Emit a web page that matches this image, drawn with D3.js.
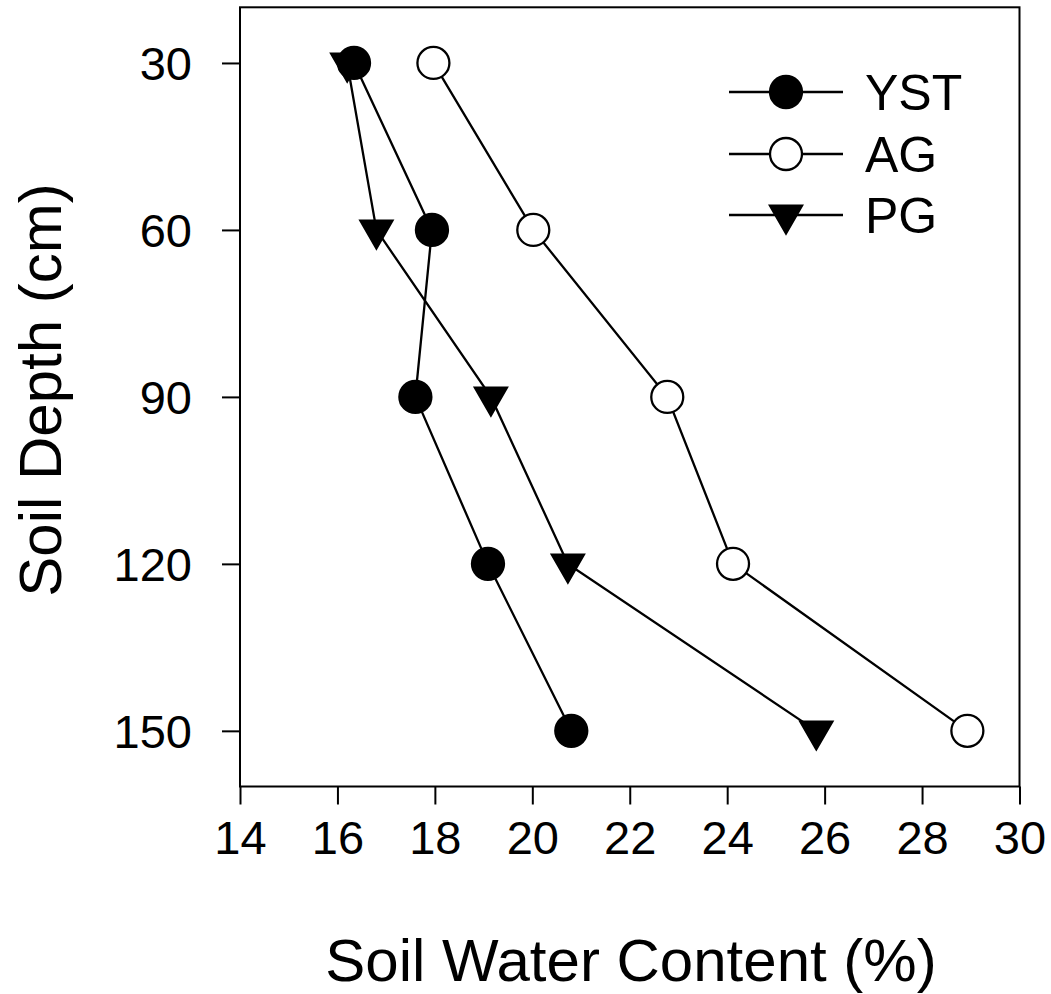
<!DOCTYPE html>
<html>
<head>
<meta charset="utf-8">
<script src="https://cdn.jsdelivr.net/npm/d3@7"></script>
<style>
  html, body { margin: 0; padding: 0; background: #fff; }
  svg { display: block; font-family: "Liberation Sans", Arial, sans-serif; }
</style>
</head>
<body>
<svg id="chart" width="1051" height="994"></svg>
<script>
// Soil water content profiles by depth for three land uses
const depths = [30, 60, 90, 120, 150];
const ystValues = [16.34, 17.94, 17.6, 19.09, 20.8];
const agValues = [17.97, 20.02, 22.77, 24.12, 28.93];
const pgValues = [16.2, 16.8, 19.15, 20.73, 25.83];
const seriesNames = ["YST", "AG", "PG"];
const xTicks = [14, 16, 18, 20, 22, 24, 26, 28, 30];
const yTicks = [30, 60, 90, 120, 150];

const series = [
  { name: "YST", values: ystValues, symbol: "circle", fill: "#000" },
  { name: "AG", values: agValues, symbol: "circle", fill: "#fff" },
  { name: "PG", values: pgValues, symbol: "triangle", fill: "#000" }
];

const svg = d3.select("#chart");
const plotLeft = 240, plotRight = 1019.5, plotTop = 7.3, plotBottom = 786.5;

const x = d3.scaleLinear().domain([14, 30]).range([plotLeft, plotRight]);
const y = d3.scaleLinear().domain([20, 160]).range([plotTop, plotBottom]);

const markerShape = s => s.symbol === "circle"
  ? d3.symbol().type(d3.symbolCircle).size(Math.PI * 16 * 16)()
  : d3.symbol().type(d3.symbolTriangle).size(443)();

const markerTransform = (s, px, py) => s.symbol === "triangle"
  ? `translate(${px},${py}) rotate(180)`
  : `translate(${px},${py})`;

// Axes
const xAxis = svg.append("g")
  .attr("transform", `translate(0,${plotBottom})`)
  .call(d3.axisBottom(x).tickValues(xTicks).tickSize(18).tickPadding(16).tickFormat(d3.format("d")));
const yAxis = svg.append("g")
  .attr("transform", `translate(${plotLeft},0)`)
  .call(d3.axisLeft(y).tickValues(yTicks).tickSize(18).tickPadding(30).tickFormat(d3.format("d")));

[xAxis, yAxis].forEach(g => {
  g.select(".domain").remove();
  g.selectAll(".tick line").attr("stroke", "#000").attr("stroke-width", 2);
  g.selectAll(".tick text").attr("fill", "#000").style("font-size", "47px");
});
xAxis.selectAll(".tick text").attr("dy", "0.71em");
yAxis.selectAll(".tick text").attr("dy", "0.35em");

// Plot frame
svg.append("rect")
  .attr("x", plotLeft).attr("y", plotTop)
  .attr("width", plotRight - plotLeft).attr("height", plotBottom - plotTop)
  .attr("fill", "none").attr("stroke", "#000").attr("stroke-width", 2);

// Lines and markers
const line = d3.line().x(d => x(d.v)).y(d => y(d.depth));
const drawOrder = [series[2], series[1], series[0]];

drawOrder.forEach(s => {
  const pts = s.values.map((v, i) => ({ v, depth: depths[i] }));
  svg.append("path")
    .datum(pts)
    .attr("d", line)
    .attr("fill", "none")
    .attr("stroke", "#000")
    .attr("stroke-width", 2.3);
});

drawOrder.forEach(s => {
  const pts = s.values.map((v, i) => ({ v, depth: depths[i] }));
  svg.append("g").selectAll("path")
    .data(pts)
    .join("path")
    .attr("d", markerShape(s))
    .attr("transform", d => markerTransform(s, x(d.v), y(d.depth)))
    .attr("fill", s.fill)
    .attr("stroke", "#000")
    .attr("stroke-width", 2.3);
});

// Legend
const legendRows = [92, 154, 215];
const legend = svg.append("g");
series.forEach((s, i) => {
  const ly = legendRows[i];
  legend.append("line")
    .attr("x1", 729).attr("x2", 843)
    .attr("y1", ly).attr("y2", ly)
    .attr("stroke", "#000").attr("stroke-width", 2.3);
  legend.append("path")
    .attr("d", markerShape(s))
    .attr("transform", markerTransform(s, 786, ly))
    .attr("fill", s.fill)
    .attr("stroke", "#000")
    .attr("stroke-width", 2.3);
  legend.append("text")
    .attr("x", 865).attr("y", ly)
    .attr("dy", "0.36em")
    .style("font-size", "50px")
    .attr("fill", "#000")
    .text(seriesNames[i]);
});

// Axis titles
svg.append("text")
  .attr("x", 631)
  .attr("y", 981)
  .attr("text-anchor", "middle")
  .style("font-size", "60px")
  .attr("fill", "#000")
  .text("Soil Water Content (%)");

svg.append("text")
  .attr("transform", `translate(61,390) rotate(-90)`)
  .attr("text-anchor", "middle")
  .style("font-size", "60px")
  .attr("fill", "#000")
  .text("Soil Depth (cm)");
</script>
</body>
</html>
